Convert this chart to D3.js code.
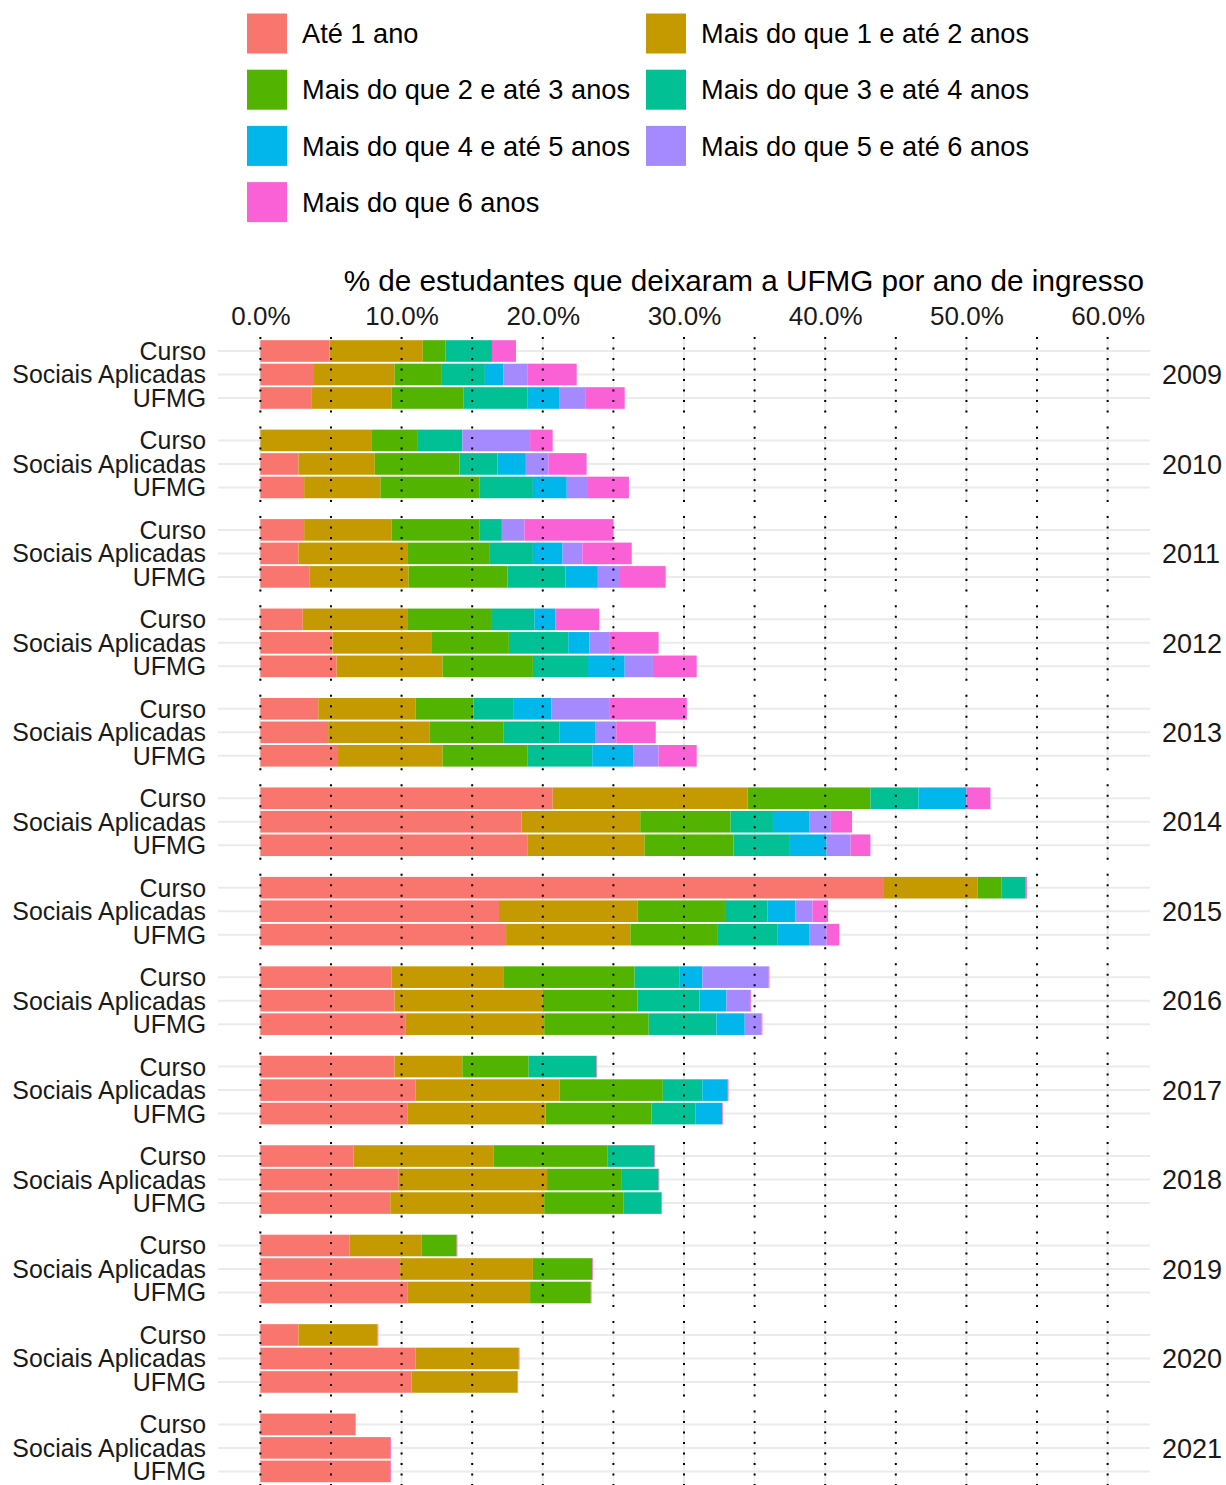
<!DOCTYPE html>
<html>
<head>
<meta charset="utf-8">
<script src="https://cdn.jsdelivr.net/npm/d3@7"></script>
<style>
  html, body { margin: 0; padding: 0; background: #fff; }
  svg { display: block; font-family: "Liberation Sans", Arial, sans-serif; }
</style>
</head>
<body>
<svg id="chart" width="1226" height="1485"></svg>
<script>
// ---------- DATA ----------
const years = ["2009","2010","2011","2012","2013","2014","2015","2016","2017","2018","2019","2020","2021"];
const groups = ["Curso", "Sociais Aplicadas", "UFMG"];
const classes = ["Até 1 ano", "Mais do que 1 e até 2 anos", "Mais do que 2 e até 3 anos",
                 "Mais do que 3 e até 4 anos", "Mais do que 4 e até 5 anos",
                 "Mais do que 5 e até 6 anos", "Mais do que 6 anos"];
const colors = ["#F8766D", "#C49A00", "#53B400", "#00C094", "#00B6EB", "#A58AFF", "#FB61D7"];
const xTicks = [0, 10, 20, 30, 40, 50, 60];

// values per year, each triple = [Curso, Sociais Aplicadas, UFMG]
const ate1 = [
  [4.9, 3.8, 3.6], [0, 2.7, 3.1], [3.1, 2.7, 3.5], [3.0, 5.1, 5.4], [4.1, 4.8, 5.5],
  [20.7, 18.5, 18.9], [44.1, 16.9, 17.4], [9.3, 9.5, 10.3], [9.5, 11.0, 10.4],
  [6.6, 9.8, 9.2], [6.3, 9.9, 10.4], [2.7, 11.0, 10.7], [6.7, 9.2, 9.2]];
const de1a2 = [
  [6.6, 5.7, 5.7], [7.9, 5.4, 5.4], [6.2, 7.7, 7.0], [7.4, 7.0, 7.5], [6.9, 7.2, 7.4],
  [13.8, 8.4, 8.3], [6.7, 9.8, 8.8], [7.9, 10.5, 9.8], [4.8, 10.2, 9.8],
  [9.9, 10.5, 10.9], [5.1, 9.4, 8.7], [5.6, 7.3, 7.5], [0, 0, 0]];
const de2a3 = [
  [1.6, 3.3, 5.1], [3.2, 6.0, 7.0], [6.2, 5.8, 7.0], [6.0, 5.5, 6.4], [4.1, 5.2, 6.0],
  [8.7, 6.4, 6.3], [1.7, 6.2, 6.2], [9.3, 6.7, 7.4], [4.7, 7.3, 7.5],
  [8.1, 5.3, 5.6], [2.5, 4.2, 4.3], [0, 0, 0], [0, 0, 0]];
const de3a4 = [
  [3.3, 3.1, 4.5], [3.2, 2.7, 3.8], [1.6, 3.1, 4.1], [3.0, 4.2, 3.9], [2.8, 4.0, 4.6],
  [3.4, 3.0, 4.0], [1.7, 3.0, 4.2], [3.2, 4.4, 4.8], [4.8, 2.8, 3.1],
  [3.3, 2.6, 2.7], [0, 0, 0], [0, 0, 0], [0, 0, 0]];
const de4a5 = [
  [0, 1.3, 2.3], [0, 2.0, 2.4], [0, 2.1, 2.3], [1.5, 1.5, 2.6], [2.7, 2.5, 2.9],
  [3.4, 2.6, 2.6], [0, 2.0, 2.3], [1.6, 1.9, 2.0], [0, 1.8, 1.9],
  [0, 0, 0], [0, 0, 0], [0, 0, 0], [0, 0, 0]];
const de5a6 = [
  [0, 1.7, 1.8], [4.8, 1.6, 1.5], [1.6, 1.4, 1.5], [0, 1.4, 2.0], [4.1, 1.5, 1.8],
  [0, 1.5, 1.7], [0, 1.2, 1.2], [4.7, 1.7, 1.2], [0, 0, 0],
  [0, 0, 0], [0, 0, 0], [0, 0, 0], [0, 0, 0]];
const mais6 = [
  [1.7, 3.5, 2.8], [1.6, 2.7, 2.9], [6.3, 3.5, 3.3], [3.1, 3.5, 3.1], [5.5, 2.8, 2.7],
  [1.7, 1.5, 1.4], [0.08, 1.1, 0.9], [0.05, 0.05, 0.05], [0.05, 0.05, 0.05],
  [0.05, 0.05, 0.05], [0.05, 0.05, 0.05], [0.05, 0.05, 0.05], [0.05, 0.05, 0.05]];

const seriesArrays = [ate1, de1a2, de2a3, de3a4, de4a5, de5a6, mais6];

// ---------- BUILD TABLE ----------
const rows = [];
years.forEach((yr, yi) => {
  groups.forEach((g, gi) => {
    const r = { year: yr, group: g };
    classes.forEach((c, ci) => { r[c] = seriesArrays[ci][yi][gi]; });
    rows.push(r);
  });
});
const stacked = d3.stack().keys(classes)(rows);

// ---------- SCALES ----------
const svg = d3.select("#chart");
const panelLeft = 218, panelRight = 1150;
const x = d3.scaleLinear().domain([-3, 63]).range([panelLeft, panelRight]);
const yPanel = d3.scaleBand().domain(years).range([336.5, 1485.9]).paddingInner(0.1504).paddingOuter(0);
const yRow = d3.scalePoint().domain(groups).range([0, yPanel.bandwidth()]).padding(0.617);
const color = d3.scaleOrdinal().domain(classes).range(colors);
const barH = 21.6;

// ---------- LEGEND ----------
const legend = svg.append("g").attr("class", "legend");
classes.forEach((c, i) => {
  const col = i % 2, row = Math.floor(i / 2);
  const lx = col === 0 ? 247 : 646;
  const ly = 13.5 + row * 56.2;
  legend.append("rect").attr("x", lx).attr("y", ly).attr("width", 40).attr("height", 40)
    .attr("fill", color(c));
  legend.append("text").attr("x", lx + 55).attr("y", ly + 20).attr("dy", "0.36em")
    .attr("font-size", 27.2).attr("fill", "#000").text(c);
});

// ---------- AXIS TITLE & TICKS ----------
svg.append("text").attr("x", 1144).attr("y", 291).attr("text-anchor", "end")
  .attr("font-size", 29.7).attr("fill", "#000")
  .text("% de estudantes que deixaram a UFMG por ano de ingresso");

const xAxis = d3.axisTop(x).tickValues(xTicks).tickSize(0).tickPadding(0)
  .tickFormat(d => d.toFixed(1) + "%");
const axG = svg.append("g").attr("transform", "translate(0,325)").call(xAxis);
axG.select(".domain").remove();
axG.selectAll("text").attr("font-size", 26).attr("fill", "#1a1a1a")
  .attr("font-family", "Liberation Sans, Arial, sans-serif");

// ---------- PANELS ----------
years.forEach((yr, yi) => {
  const top = yPanel(yr);
  const h = yPanel.bandwidth();
  const g = svg.append("g").attr("transform", `translate(0,${top})`);

  // minor vertical gridlines
  g.selectAll("line.vminor").data(d3.range(5, 60, 10)).join("line")
    .attr("x1", d => x(d)).attr("x2", d => x(d)).attr("y1", 0).attr("y2", h)
    .attr("stroke", "#EBEBEB").attr("stroke-width", 1);
  // major vertical gridlines
  g.selectAll("line.vmajor").data(xTicks).join("line")
    .attr("x1", d => x(d)).attr("x2", d => x(d)).attr("y1", 0).attr("y2", h)
    .attr("stroke", "#EBEBEB").attr("stroke-width", 2);
  // horizontal gridlines
  g.selectAll("line.h").data(groups).join("line")
    .attr("x1", panelLeft).attr("x2", panelRight)
    .attr("y1", d => yRow(d)).attr("y2", d => yRow(d))
    .attr("stroke", "#EBEBEB").attr("stroke-width", 2);

  // bars
  stacked.forEach(layer => {
    const segs = layer.filter(d => d.data.year === yr);
    g.selectAll(null).data(segs).join("rect")
      .attr("x", d => x(d[0]))
      .attr("width", d => Math.max(0, x(d[1]) - x(d[0])))
      .attr("y", d => yRow(d.data.group) - barH / 2)
      .attr("height", barH)
      .attr("fill", color(layer.key));
  });

  // dotted reference lines every 5%
  g.selectAll("line.dot").data(d3.range(0, 61, 5)).join("line")
    .attr("x1", d => x(d)).attr("x2", d => x(d)).attr("y1", h).attr("y2", 0)
    .attr("stroke", "#000").attr("stroke-width", 2).attr("stroke-dasharray", "2 8.5");

  // y labels
  g.selectAll("text.ylab").data(groups).join("text")
    .attr("x", 206).attr("y", d => yRow(d)).attr("dy", "0.36em")
    .attr("text-anchor", "end").attr("font-size", 24.9).attr("fill", "#1a1a1a")
    .text(d => d);

  // strip label (year)
  g.append("text").attr("x", 1162).attr("y", h / 2).attr("dy", "0.36em")
    .attr("font-size", 27).attr("fill", "#1a1a1a").text(yr);
});
</script>
</body>
</html>
